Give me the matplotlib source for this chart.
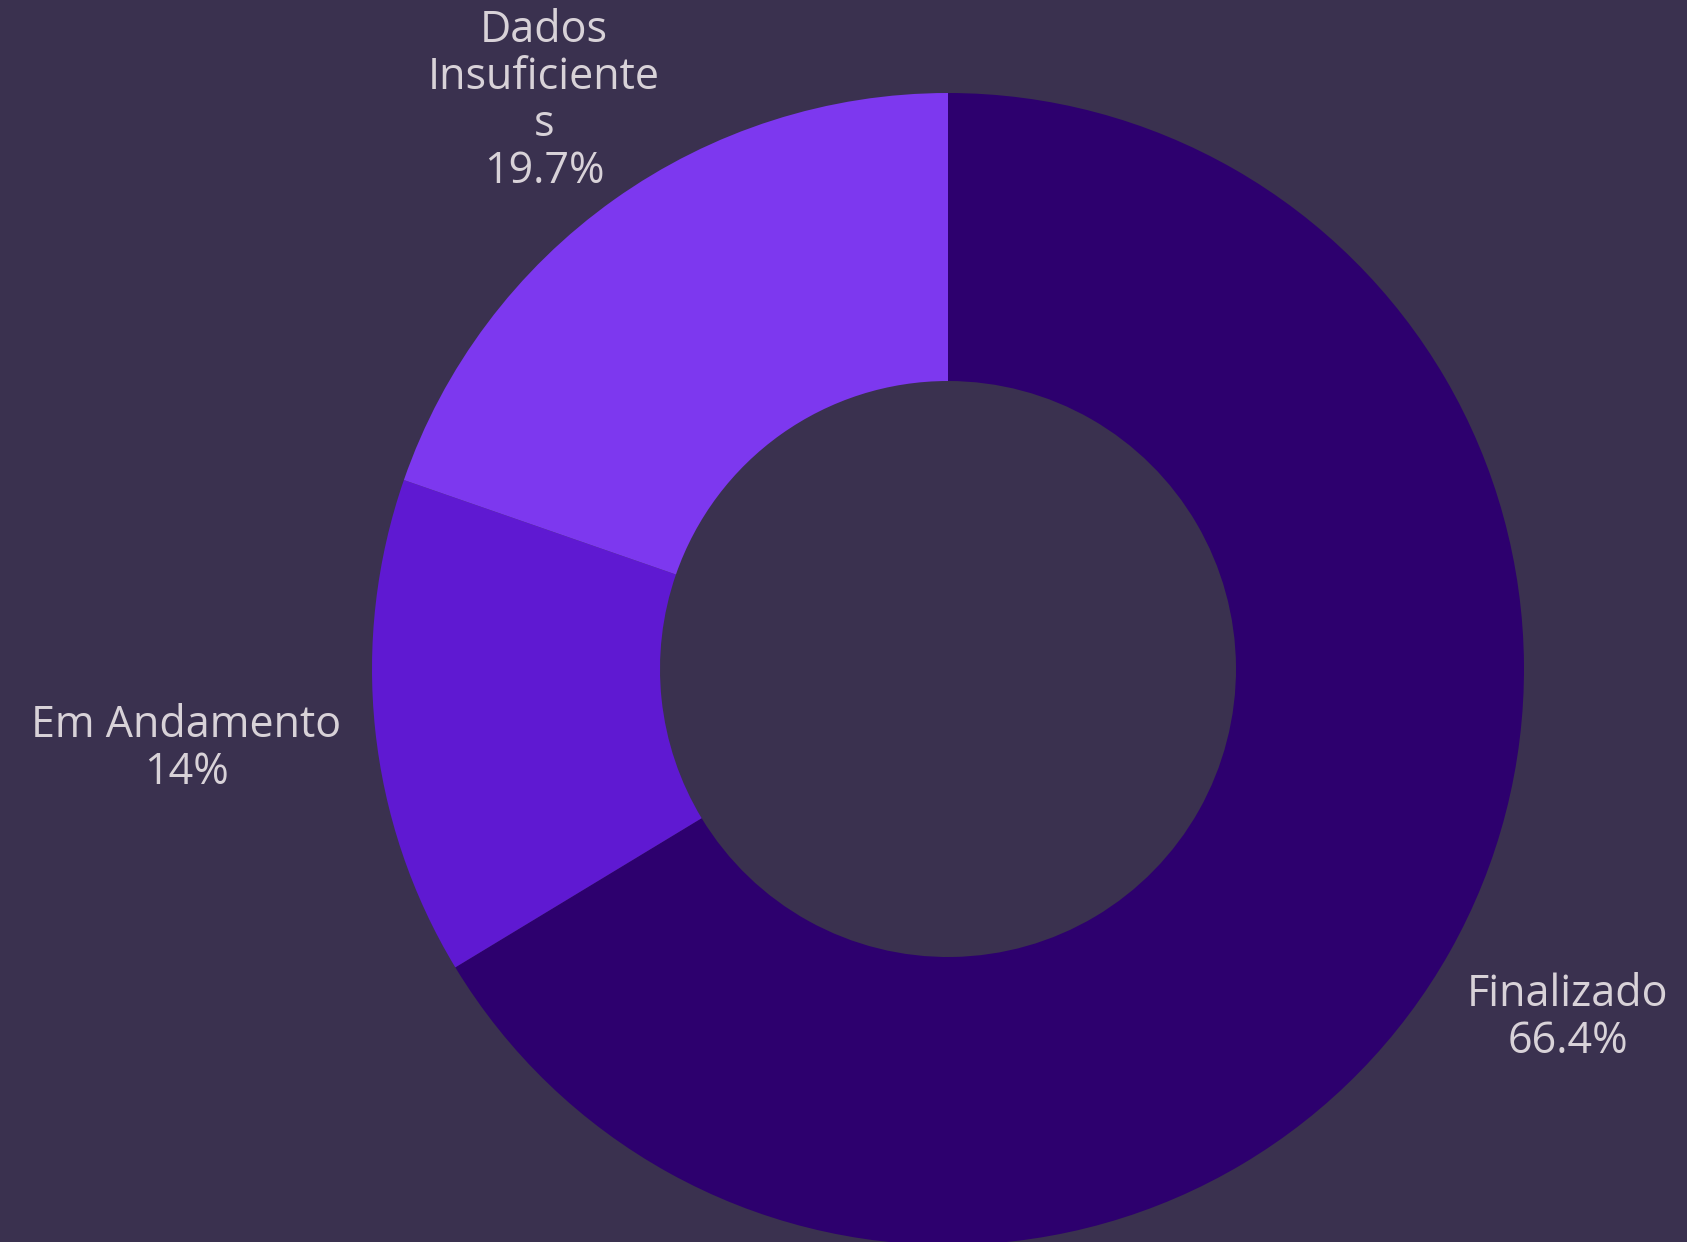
import numpy as np
import matplotlib
matplotlib.use('Agg')
import matplotlib.pyplot as plt

# status breakdown
labels = ['Finalizado', 'Em Andamento', 'Dados\nInsuficiente\ns']
values = [66.4, 14, 19.7]
pct_labels = ['66.4%', '14%', '19.7%']
colors = ['#2d006e', '#5f19d2', '#7d38ef']

bg = '#3a314f'
text_color = '#d8d2d8'

fig = plt.figure(figsize=(16.87, 12.42), dpi=100, facecolor=bg)
ax = fig.add_axes([0, 0, 1, 1])
ax.set_facecolor(bg)

# work in pixel-like units so the donut sits where it does in the original
cx, cy, r = 948, 1242 - 669, 576
wedges, _ = ax.pie(values, colors=colors, startangle=90, counterclock=False,
                   center=(cx, cy), radius=r,
                   wedgeprops=dict(width=r * 0.5, linewidth=0))

# labels sit on the mid angle of each slice
label_dist = [1.235, 1.33, 1.21]
for w, lab, pct, d in zip(wedges, labels, pct_labels, label_dist):
    ang = np.deg2rad((w.theta1 + w.theta2) / 2)
    x = cx + r * d * np.cos(ang)
    y = cy + r * d * np.sin(ang)
    ax.text(x, y, lab + '\n' + pct, ha='center', va='center',
            fontsize=31, color=text_color, family='Open Sans', linespacing=1.08)

ax.set_xlim(0, 1687)
ax.set_ylim(0, 1242)
ax.set_aspect('equal')
ax.axis('off')

fig.savefig('out.png', dpi=100, facecolor=bg)
